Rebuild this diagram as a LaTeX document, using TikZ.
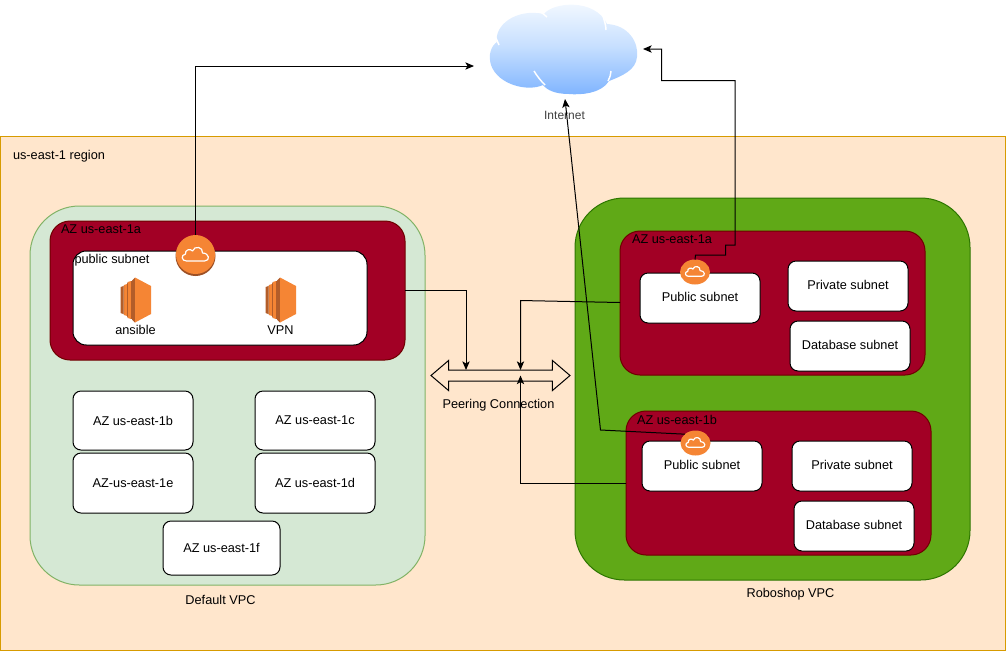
\documentclass[tikz,border=0pt]{standalone}
\usepackage{fontspec}
\setmainfont{Liberation Sans}
\usetikzlibrary{arrows.meta,shapes.arrows,shapes.geometric}
\definecolor{regfill}{HTML}{FFE6CC}
\definecolor{regline}{HTML}{D79B00}
\definecolor{vpcfill}{HTML}{D5E8D4}
\definecolor{vpcline}{HTML}{82B366}
\definecolor{grnfill}{HTML}{60A917}
\definecolor{grnline}{HTML}{2D7600}
\definecolor{azfill}{HTML}{A20025}
\definecolor{azline}{HTML}{6F0000}
\definecolor{awsor}{HTML}{F58534}
\definecolor{awsdk}{HTML}{9D5025}
\definecolor{cloudtop}{HTML}{F7FBFF}
\definecolor{cloudmid}{HTML}{C6DFFF}
\definecolor{cloudbot}{HTML}{7FB4FF}
\newcommand{\pxw}[1]{#1*0.75pt}
\tikzset{
  x=0.75pt,y=-0.75pt,
  every node/.style={font=\fontsize{9.55}{11}\selectfont,text=black,inner sep=0pt,outer sep=0pt},
  region/.style={draw=regline,fill=regfill,line width=0.75pt},
  defvpc/.style={draw=vpcline,fill=vpcfill,line width=0.75pt,rounded corners=37pt},
  robvpc/.style={draw=grnline,fill=grnfill,line width=0.75pt,rounded corners=37pt},
  azbox/.style={draw=azline,fill=azfill,line width=0.75pt,rounded corners=15pt},
  wbox/.style={draw=black,fill=white,line width=0.75pt,rounded corners=6pt,align=center},
  rbox/.style={wbox,text height=6.8pt,text depth=1.4pt},
  conn/.style={draw=black,line width=0.75pt,-{Stealth[length=6.5pt,width=5.5pt,inset=1.6pt]}},
  igwdisc/.style={circle,fill=awsor,draw=none},
  igwsmall/.style={ellipse,fill=awsor,draw=none,minimum width=\pxw{30},minimum height=\pxw{25}},
  peer/.style={double arrow,draw=black,line width=0.75pt,fill=regfill,inner ysep=\pxw{5},
    minimum height=\pxw{139},minimum width=\pxw{29},double arrow head extend=\pxw{9.5},
    double arrow tip angle=81},
  cloudglyph/.pic={
    \draw[white,line width=0.9pt,line join=round,pic actions]
      (-9,6) .. controls (-14,6) and (-15,0) .. (-10,-1)
      .. controls (-11,-5) and (-5,-7) .. (-3,-4)
      .. controls (-1,-10) and (8,-8) .. (7,-2)
      .. controls (14,-2) and (15,6) .. (9,6) -- cycle;
  },
  instance/.pic={
    \fill[awsdk!75!awsor] (-15,-13) -- (-12,-14) -- (-12,14) -- (-15,13) -- cycle;
    \fill[awsor] (-11.3,-15) -- (-8.5,-16) -- (-8.5,16) -- (-11.3,15) -- cycle;
    \fill[awsdk!75!awsor] (-12,-14) -- (-11.3,-15) -- (-11.3,15) -- (-12,14) -- cycle;
    \fill[awsor] (-7.6,-18) -- (-4.5,-19) -- (-4.5,19) -- (-7.6,18) -- cycle;
    \fill[awsdk!75!awsor] (-8.5,-16) -- (-7.6,-18) -- (-7.6,18) -- (-8.5,16) -- cycle;
    \fill[awsdk!75!awsor] (-4.5,-19) -- (-3.5,-19) -- (-3.5,19) -- (-4.5,19) -- cycle;
    \fill[awsdk!75!awsor] (-3.5,-19.5) -- (-0.5,-22.5) -- (-0.5,22.5) -- (-3.5,19.5) -- cycle;
    \fill[awsor] (-0.5,-22.5) -- (15.5,-14) -- (15.5,14) -- (-0.5,22.5) -- cycle;
  }
}
\begin{document}
\begin{tikzpicture}
\useasboundingbox (0,0) rectangle (1006,651);

% internet cloud
\shade[top color=cloudtop,bottom color=cloudbot,middle color=cloudmid]
  (497,42) .. controls (494,26) and (515,8) .. (544,14)
  .. controls (553,2) and (595,-2) .. (607,24)
  .. controls (628,25) and (639,42) .. (637,57)
  .. controls (636,70) and (622,76) .. (609,81)
  .. controls (601,94) and (580,95) .. (569,94)
  .. controls (555,94) and (547,90) .. (543,85)
  .. controls (528,92) and (498,85) .. (491,65)
  .. controls (488,55) and (491,46) .. (497,42) -- cycle;
\draw[white,line width=1.1pt] (534,71) .. controls (537,76) and (541,81) .. (545,85);
\draw[white,line width=1.1pt] (611,71) .. controls (611,74) and (610,77) .. (608,81);
\draw[white,line width=1.1pt] (603,16) .. controls (604,20) and (606,25) .. (606,30);
\draw[white,line width=1.1pt] (541,12) -- (547,17);
\draw[white,line width=1.1pt] (496,38) -- (499,45);
\coordinate (netL) at (474,66);
\coordinate (netR) at (643,49);
\coordinate (netB) at (565,99);
\node[font=\fontsize{9}{11}\selectfont,text=black!75] (internet) at (564.5,115) {Internet};

% region
\draw[region] (0,136) rectangle (1005,650);
\node[anchor=west] (regionlbl) at (13,155.8) {us-east-1 region};

% default VPC
\draw[defvpc] (30,206) rectangle (425,585);
\node (defvpclbl) at (220.5,599.5) {Default VPC};
\node[azbox,anchor=north west,minimum width=\pxw{355},minimum height=\pxw{139}] (az1a) at (50,221) {};
\node[anchor=west] (az1alabel) at (61,229.5) {AZ us-east-1a};
\node[wbox,rounded corners=10pt,anchor=north west,minimum width=\pxw{294},minimum height=\pxw{94}] (pubsub) at (73,251) {};
\node[anchor=west] (pubsublbl) at (74.5,260.3) {public subnet};
\pic at (135.5,300) {instance};
\pic at (280.5,300) {instance};
\node (ansible) at (135.5,330) {ansible};
\node (vpn) at (280.5,330) {VPN};
\node[wbox,anchor=north west,minimum width=\pxw{120},minimum height=\pxw{59}] (b1b) at (73,391) {AZ us-east-1b};
\node[wbox,anchor=north west,minimum width=\pxw{120},minimum height=\pxw{59}] (b1c) at (255,391) {AZ us-east-1c};
\node[wbox,anchor=north west,minimum width=\pxw{120},minimum height=\pxw{60}] (b1e) at (73,453) {AZ-us-east-1e};
\node[wbox,anchor=north west,minimum width=\pxw{120},minimum height=\pxw{60}] (b1d) at (255,453) {AZ us-east-1d};
\node[wbox,anchor=north west,minimum width=\pxw{117},minimum height=\pxw{54}] (b1f) at (163,521) {AZ us-east-1f};
\fill[awsdk] (195.5,256) circle[radius=20];
\node[igwdisc,minimum size=\pxw{39}] (igw) at (195.5,254.5) {};
\pic at (195.5,255) {cloudglyph};

% roboshop VPC
\draw[robvpc] (575,198) rectangle (970,580);
\node (robvpclbl) at (790.5,594.5) {Roboshop VPC};
\node[azbox,anchor=north west,minimum width=\pxw{305},minimum height=\pxw{144}] (ra) at (620,231) {};
\node[anchor=west] (ralbl) at (632,239.5) {AZ us-east-1a};
\node[rbox,anchor=north west,minimum width=\pxw{120},minimum height=\pxw{50}] (rapub) at (640,273) {Public subnet};
\node[rbox,anchor=north west,minimum width=\pxw{120},minimum height=\pxw{50}] (rapriv) at (788,261) {Private subnet};
\node[rbox,anchor=north west,minimum width=\pxw{120},minimum height=\pxw{50}] (radb) at (790,321) {Database subnet};
\node[azbox,anchor=north west,minimum width=\pxw{305},minimum height=\pxw{144}] (rb) at (626,411) {};
\node[anchor=west] (rblbl) at (637,420) {AZ us-east-1b};
\node[rbox,anchor=north west,minimum width=\pxw{120},minimum height=\pxw{50}] (rbpub) at (642,441) {Public subnet};
\node[rbox,anchor=north west,minimum width=\pxw{120},minimum height=\pxw{50}] (rbpriv) at (792,441) {Private subnet};
\node[rbox,anchor=north west,minimum width=\pxw{120},minimum height=\pxw{50}] (rbdb) at (794,501) {Database subnet};
\node[igwsmall] (igwa) at (695,272) {};
\pic[scale=0.72] at (695,272) {cloudglyph};
\node[igwsmall] (igwb) at (695.5,443) {};
\pic[scale=0.72] at (695.5,443) {cloudglyph};

% peering
\node[peer] (peering) at (500.5,375.5) {};
\node (peerlbl) at (498.5,405.5) {Peering Connection};
\coordinate (pA) at (466,370);
\coordinate (pB) at (520.5,370);
\coordinate (pC) at (520.5,375.5);

% connectors
\draw[conn] (igw.north) -- (195.5,66) -- (netL);
\draw[conn] (igwa.north) -- (695.5,255) -- (725.5,255) -- (725.5,245) -- (735,245) -- (735,80.5) -- (661.5,80.5) -- (661.5,49) -- (netR);
\draw[conn] (igwb.north west) -- (600.5,430) -- (netB);
\draw[conn] (az1a.east |- 0,290) -- (466,290) -- (pA);
\draw[conn] (ra.west |- 0,302.5) -- (520.5,300.5) -- (pB);
\draw[conn] (rb.west |- 0,483) -- (520.5,483) -- (pC);
\end{tikzpicture}
\end{document}
